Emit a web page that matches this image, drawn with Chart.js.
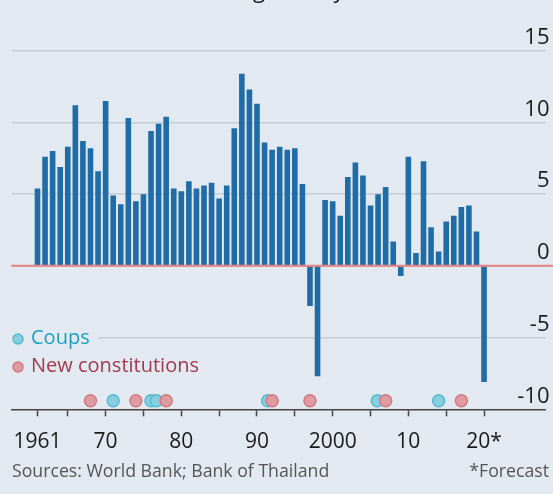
<!DOCTYPE html>
<html><head><meta charset="utf-8">
<script src="https://cdn.jsdelivr.net/npm/chart.js@4/dist/chart.umd.min.js"></script>
<style>html,body{margin:0;padding:0;background:#e2e9f0;}#wrap{width:553px;height:494px;position:relative;overflow:hidden}canvas{display:block}</style>
</head><body><div id="wrap"><canvas id="c" width="553" height="494"></canvas></div>
<script>
// ---- data ----
const years = [1961,1962,1963,1964,1965,1966,1967,1968,1969,1970,
  1971,1972,1973,1974,1975,1976,1977,1978,1979,1980,
  1981,1982,1983,1984,1985,1986,1987,1988,1989,1990,
  1991,1992,1993,1994,1995,1996,1997,1998,1999,2000,
  2001,2002,2003,2004,2005,2006,2007,2008,2009,2010,
  2011,2012,2013,2014,2015,2016,2017,2018,2019,2020];
const growth = [5.4,7.6,8.0,6.9,8.3,11.2,8.7,8.2,6.6,11.5,
  4.9,4.3,10.3,4.5,5.0,9.4,9.9,10.4,5.4,5.2,
  5.9,5.4,5.6,5.8,4.7,5.6,9.6,13.4,12.3,11.3,
  8.6,8.1,8.3,8.1,8.2,5.7,-2.8,-7.7,4.6,4.5,
  3.5,6.2,7.2,6.3,4.2,5.0,5.5,1.7,-0.7,7.6,
  0.9,7.3,2.7,1.0,3.1,3.5,4.1,4.2,2.4,-8.1];
const coupYears = [1971, 1976, 1976.7, 1991.4, 2005.9, 2014];
const constitutionYears = [1968, 1974, 1978, 1992, 1997, 2007, 2017];
const markerRowValue = -9.4;
const tickYears = [1961,1965,1970,1975,1980,1985,1990,1995,2000,2005,2010,2015,2020];
const tickLabelYears = [1961,1970,1980,1990,2000,2010,2020];
const tickLabelTexts = ['1961','70','80','90','2000','10','20*'];
const yTicks = [-10,-5,0,5,10,15];
const subtitleText = '% change on a year earlier';
const legendLabels = ['Coups', 'New constitutions'];
const sourceText = 'Sources: World Bank; Bank of Thailand';
const noteText = '*Forecast';

// ---- style ----
const BG = '#e2e9f0';
const FONT = "'Open Sans', sans-serif";
const BAR = '#1f6ca7';
const GRID = '#c5ccd4';
const ZERO = '#e58487';
const COUP_FILL = '#86cfe0', COUP_LINE = '#56b9d0', COUP_TEXT = '#1aa0c2';
const CON_FILL = '#e09aa1', CON_LINE = '#d27780', CON_TEXT = '#a33a4f';

const deco = {
  id: 'deco',
  beforeDraw(chart) {
    const ctx = chart.ctx;
    ctx.save(); ctx.fillStyle = BG; ctx.fillRect(0, 0, chart.width, chart.height); ctx.restore();
  },
  afterDatasetsDraw(chart) {
    const ctx = chart.ctx, ca = chart.chartArea, y = chart.scales.y.getPixelForValue(0);
    ctx.save();
    ctx.strokeStyle = ZERO; ctx.lineWidth = 2;
    ctx.beginPath(); ctx.moveTo(ca.left, y); ctx.lineTo(chart.width, y); ctx.stroke();
    ctx.restore();
  },
  afterDraw(chart) {
    const ctx = chart.ctx;
    ctx.save();
    // legend
    ctx.fillStyle = BG; ctx.fillRect(10, 326, 88, 52);
    ctx.font = "20px " + FONT; ctx.textBaseline = 'middle'; ctx.textAlign = 'left';
    const items = [[COUP_FILL, COUP_LINE, COUP_TEXT, 338], [CON_FILL, CON_LINE, CON_TEXT, 366]];
    items.forEach((it, i) => {
      ctx.beginPath(); ctx.arc(18, it[3] + 1, 5, 0, Math.PI * 2);
      ctx.fillStyle = it[0]; ctx.fill(); ctx.lineWidth = 1.5; ctx.strokeStyle = it[1]; ctx.stroke();
      ctx.fillStyle = it[2]; ctx.fillText(legendLabels[i], 31, it[3]);
    });
    // subtitle (cropped at top)
    ctx.font = "22px " + FONT; ctx.fillStyle = '#111'; ctx.textBaseline = 'alphabetic';
    const pre = ctx.measureText('% chan').width;
    ctx.fillText(subtitleText, 253 - pre, -2.5);
    // footer
    ctx.font = "17.7px " + FONT; ctx.fillStyle = '#555'; ctx.textBaseline = 'middle';
    ctx.textAlign = 'left'; ctx.fillText(sourceText, 12, 472);
    ctx.textAlign = 'right'; ctx.fillText(noteText, 549, 472);
    ctx.restore();
  }
};

function draw() {
  Chart.defaults.font.family = FONT;
  new Chart(document.getElementById('c'), {
    type: 'bar',
    data: {
      datasets: [
        { type: 'line', label: 'New constitutions', order: 0, showLine: false,
          data: constitutionYears.map(x => ({x, y: markerRowValue})),
          pointRadius: 6, pointHoverRadius: 6, pointBackgroundColor: CON_FILL, pointBorderColor: CON_LINE, pointBorderWidth: 1.5 },
        { type: 'line', label: 'Coups', order: 1, showLine: false,
          data: coupYears.map(x => ({x, y: markerRowValue})),
          pointRadius: 6, pointHoverRadius: 6, pointBackgroundColor: COUP_FILL, pointBorderColor: COUP_LINE, pointBorderWidth: 1.5 },
        { type: 'bar', label: 'GDP growth', order: 2,
          data: years.map((x, i) => ({x, y: growth[i]})),
          backgroundColor: BAR, borderWidth: 0, barPercentage: 0.74, categoryPercentage: 1.0 }
      ]
    },
    options: {
      responsive: false, animation: false, devicePixelRatio: 1,
      layout: { padding: { top: 50.7, left: 10, right: 0, bottom: 0 } },
      plugins: { legend: { display: false }, tooltip: { enabled: false } },
      scales: {
        x: {
          type: 'linear', position: 'bottom', min: 1957.57, max: 2028.12, offset: false,
          afterFit: s => { s.height = 84.7; },
          afterBuildTicks: s => { s.ticks = tickYears.map(v => ({value: v})); },
          grid: { offset: false, drawOnChartArea: false, drawTicks: true, tickLength: 7, tickColor: '#444', tickWidth: 1.5 },
          border: { display: true, color: '#444', width: 1.5 },
          ticks: { autoSkip: false, maxRotation: 0, minRotation: 0, padding: 13, color: '#1a1a1a',
            font: { size: 21 },
            callback: v => { const i = tickLabelYears.indexOf(v); return i >= 0 ? tickLabelTexts[i] : ''; } }
        },
        y: {
          position: 'right', min: -10, max: 15,
          afterFit: s => { s.width = 0; },
          afterBuildTicks: s => { s.ticks = yTicks.map(v => ({value: v})); },
          border: { display: false },
          grid: { drawTicks: false, lineWidth: 1.5,
            color: c => c.tick.value === -10 ? 'rgba(0,0,0,0)' : (c.tick.value === 0 ? ZERO : GRID) },
          ticks: { mirror: true, padding: 4, labelOffset: -13, color: '#1a1a1a', font: { size: 22 } }
        }
      }
    },
    plugins: [deco]
  });
}
Promise.all([document.fonts.load('20px "Open Sans"'), document.fonts.load('17px "Open Sans"')])
  .then(draw, draw);
</script></body></html>
